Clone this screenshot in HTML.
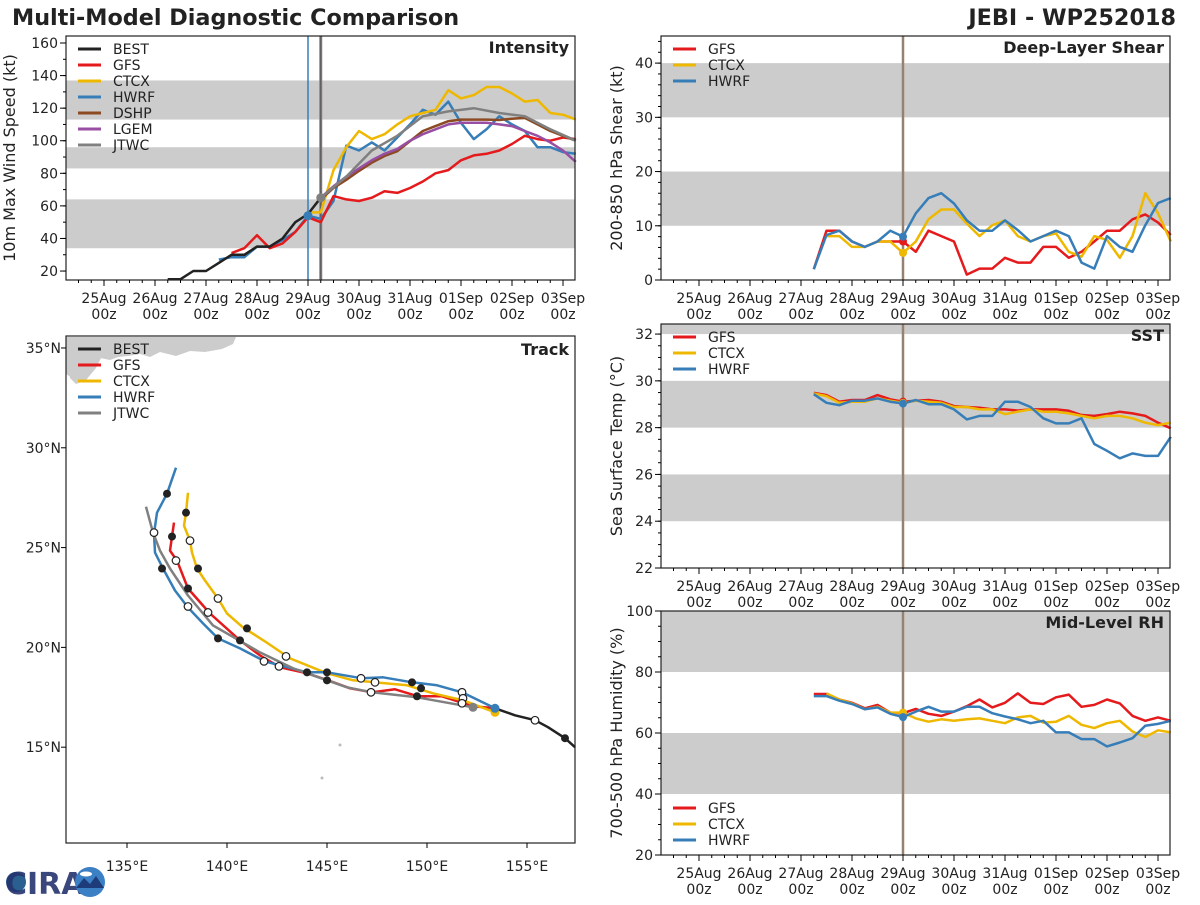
<!DOCTYPE html>
<html><head><meta charset="utf-8"><title>Multi-Model Diagnostic Comparison</title>
<style>
html,body{margin:0;padding:0;background:#fff;}
svg text{font-family:"DejaVu Sans","Liberation Sans",sans-serif;}
</style></head>
<body>
<svg id="fig" xmlns="http://www.w3.org/2000/svg" width="1200" height="900" viewBox="0 0 1200 900">
<rect width="1200" height="900" fill="#fff"/>
<text x="12" y="25" font-size="22.3" font-weight="bold" fill="#222">Multi-Model Diagnostic Comparison</text>
<text x="1176" y="25" font-size="22.3" font-weight="bold" fill="#222" text-anchor="end">JEBI - WP252018</text>
<g id="root"></g>
<g>
<circle cx="16" cy="882" r="10" fill="#2a5f8f"/>
<text x="5" y="894" font-size="30" font-weight="bold" fill="#23336e" font-family="Liberation Sans" fill-opacity="0.9">CIRA</text>
<circle cx="90" cy="882" r="15" fill="#3b7fc4"/>
<path d="M76 888 L84 878 L90 884 L96 876 L104 888 Z" fill="#1f3c7a"/>
<ellipse cx="86" cy="874" rx="6" ry="2.5" fill="#fff"/>
</g>
</svg>
<script>
// ---------- DATA ----------
const dayLabels = ["25Aug","26Aug","27Aug","28Aug","29Aug","30Aug","31Aug","01Sep","02Sep","03Sep"];
const intYTicks = [20,40,60,80,100,120,140,160];
const shearYTicks = [0,10,20,30,40];
const sstYTicks = [22,24,26,28,30,32];
const rhYTicks = [20,40,60,80,100];
const lonTicks = [135,140,145,150,155];
const latTicks = [15,20,25,30,35];

const bestStart = 30;
const bestInt = [15,15,20,20,25,30,30,35,35,40,50,55,65];
const gfsIntStart = 60;
const gfsInt = [31,34,42,34,37,44,53,50,66,64,63,65,69,68,71,75,80,82,88,91,92,94,98,103,101,100,102,101];
const ctcxIntStart = 96;
const ctcxInt = [56,56,82,96,106,101,104,110,115,117,119,131,126,128,133,133,129,124,125,117,116,113];
const hwrfIntStart = 54;
const hwrfInt = [27,28.5,28.5,35,35,39,44,54,52,63,97,94,99,94,102,110,119,116,124,111,101,107,115,110,106,96,96,93,92];
const dshpIntStart = 102;
const dshpInt = [64,71,76,81.5,86.5,90.6,93.6,99.8,106,109,112,113,113,113,112.7,113.5,114,110,106,103,100];
const lgemIntStart = 102;
const lgemInt = [65,72,78,83,88,92,95,100,104,107,110,111,111,111,110,109,106,103,99,94,87];
const jtwcIntStart = 102;
const jtwcInt = [65,78,94,103,115,118,120,117,115,107,100];

const shearStart = 54;
const gfsShear = [2,9.1,9.1,7.1,6.1,7.1,7.1,7.1,5.2,9.1,8.1,7.1,1.0,2.1,2.1,4.1,3.2,3.2,6.1,6.1,4.1,5.2,7.1,9.1,9.1,11.2,12.1,10.6,8.3];
const ctcxShearStart = 60;
const ctcxShear = [8.1,8.1,6.1,6.1,7.1,7.1,5.0,7.1,11.2,13.0,13.0,10.4,8.1,10.1,11.0,8.1,7.1,8.1,8.6,5.2,4.3,8.1,7.4,4.1,8.1,16.0,12.3,7.1];
const hwrfShear = [2.0,8.3,9.1,7.1,6.1,7.1,9.1,8.0,12.3,15.1,16.0,14.1,11.0,9.1,9.1,11.0,9.2,7.1,8.1,9.1,8.1,3.2,2.1,8.1,6.1,5.2,10.1,14.2,15.1];

const sstStart = 54;
const gfsSst = [29.49,29.39,29.11,29.18,29.18,29.39,29.21,29.11,29.15,29.18,29.11,28.92,28.88,28.85,28.78,28.78,28.73,28.78,28.78,28.78,28.72,28.54,28.50,28.58,28.68,28.61,28.50,28.21,27.97];
const ctcxSst = [29.46,29.35,29.06,29.11,29.11,29.25,29.15,29.06,29.15,29.11,29.06,28.88,28.88,28.78,28.78,28.58,28.68,28.78,28.68,28.68,28.61,28.50,28.40,28.50,28.50,28.40,28.21,28.11,28.21];
const hwrfSst = [29.43,29.06,28.96,29.15,29.15,29.25,29.11,29.03,29.18,29.00,29.00,28.78,28.35,28.50,28.50,29.11,29.11,28.88,28.40,28.18,28.18,28.40,27.30,27.01,26.69,26.90,26.79,26.79,27.61];

const rhStart = 54;
const gfsRh = [72.8,72.8,71.0,69.9,68.1,69.2,66.7,66.5,67.9,66.3,65.6,67.0,68.8,71.0,68.4,69.9,73.0,69.9,69.5,71.7,72.6,68.6,69.2,71.0,69.7,65.6,64.0,65.1,64.0];
const ctcxRhStart = 60;
const ctcxRh = [73.0,71.0,69.7,67.8,68.6,66.7,66.7,64.8,63.7,64.5,64.0,64.5,64.8,64.0,63.2,65.1,65.6,63.4,63.7,65.6,62.7,61.6,63.2,64.0,60.5,58.7,60.9,60.2];
const hwrfRh = [72.1,72.1,70.6,69.5,67.8,68.4,66.3,65.2,67.0,68.6,67.0,67.0,68.6,68.6,66.5,65.4,64.5,63.2,64.0,60.2,60.2,58.0,58.0,55.6,56.9,58.3,62.4,63.0,64.0];

const bestTrack = [[157.4,15.0],[156.9,15.45],[156.05,16.0],[155.4,16.35],[154.4,16.6],[153.4,16.95]];
const hwrfTrack = [[153.4,16.95],[151.75,17.75],[150.5,18.1],[149.25,18.25],[147.8,18.5],[146.75,18.45],[145.0,18.75],[144.0,18.75],[141.9,19.3],[140.65,19.95],[139.55,20.45],[138.8,21.2],[138.05,22.0],[137.4,22.85],[136.8,23.95],[136.4,24.75],[136.35,25.7],[136.5,26.75],[137.0,27.7],[137.45,29.0]];
const gfsTrack = [[153.4,16.95],[152.3,17.05],[150.75,17.55],[149.55,17.55],[148.4,17.9],[147.25,17.75],[146.15,17.95],[145.05,18.35],[144.0,18.7],[142.65,19.0],[141.65,19.6],[140.65,20.35],[139.15,21.7],[138.05,22.95],[137.5,24.35],[137.15,24.85],[137.25,25.55],[137.35,26.25]];
const ctcxTrack = [[153.4,16.75],[151.8,17.35],[150.3,17.7],[149.0,18.1],[147.4,18.25],[146.3,18.35],[145.0,18.7],[143.15,19.45],[141.9,20.3],[140.8,21.0],[140.0,21.7],[139.55,22.45],[138.9,23.35],[138.5,23.95],[138.25,24.75],[138.15,25.35],[137.85,26.1],[137.95,26.75],[138.05,27.75]];
const jtwcTrack = [[152.3,17.0],[149.5,17.5],[147.25,17.75],[146.0,18.0],[145.0,18.35],[143.3,18.95],[141.65,19.75],[139.3,21.1],[138.05,22.6],[137.15,23.95],[136.65,24.85],[136.3,25.75],[135.95,27.05]];
const filledMarks = [[137.0,27.7],[137.95,26.75],[137.25,25.55],[136.75,23.95],[138.55,23.95],[138.05,22.95],[141.0,20.95],[139.55,20.45],[140.65,20.35],[144.0,18.75],[145.0,18.75],[145.0,18.35],[149.25,18.25],[149.7,17.95],[149.5,17.55],[156.9,15.45]];
const openMarks = [[136.35,25.75],[138.15,25.35],[137.45,24.35],[139.55,22.45],[138.05,22.05],[139.05,21.75],[142.95,19.55],[141.85,19.3],[142.6,19.05],[146.7,18.45],[147.4,18.25],[147.2,17.75],[151.75,17.75],[151.8,17.45],[151.75,17.2],[155.4,16.35]];

const C = {BEST:"#222222",GFS:"#e41a1c",CTCX:"#efb800",HWRF:"#377eb8",DSHP:"#8c4a22",LGEM:"#984ea3",JTWC:"#808080"};
const NS = "http://www.w3.org/2000/svg";
const root = document.getElementById('root');
function mk(tag, attrs, parent){const e=document.createElementNS(NS,tag);for(const k in attrs)e.setAttribute(k,attrs[k]);(parent||root).appendChild(e);return e;}

const T0=-0.745*24, T1=9.235*24;
function makeX(x0,w){return t=>x0+(t-T0)/(T1-T0)*w;}
function makeY(y0,h,d0,d1){return v=>y0+h-(v-d0)/(d1-d0)*h;}

function timeAxis(g,X,yb,labelY){
  for(let t=-12;t<=T1;t+=6){ if(t<T0) continue;
    const major=(t%24===0);
    mk('line',{x1:X(t),x2:X(t),y1:yb,y2:yb+(major?6:3),stroke:'#000','stroke-width':1},g);
  }
  dayLabels.forEach((d,i)=>{
    const t1=mk('text',{x:X(i*24),y:labelY,'font-size':14,'text-anchor':'middle',fill:'#222'},g);t1.textContent=d;
    const t2=mk('text',{x:X(i*24),y:labelY+16,'font-size':14,'text-anchor':'middle',fill:'#222'},g);t2.textContent='00z';
  });
}
function yAxis(g,Y,x0,ticks,minorStep,dmin,dmax,fmt){
  for(let v=Math.ceil(dmin/minorStep)*minorStep;v<=dmax;v+=minorStep){
    mk('line',{x1:x0-3,x2:x0,y1:Y(v),y2:Y(v),stroke:'#000'},g);
  }
  ticks.forEach(v=>{
    mk('line',{x1:x0-6,x2:x0,y1:Y(v),y2:Y(v),stroke:'#000'},g);
    const t=mk('text',{x:x0-8,y:Y(v)+5,'font-size':14,'text-anchor':'end',fill:'#222'},g);t.textContent=fmt?fmt(v):v;
  });
}
function bands(g,Y,x0,w,list,d1){
  list.forEach(b=>{const top=Y(Math.min(b[1],d1));mk('rect',{x:x0,y:top,width:w,height:Y(b[0])-top,fill:'#cccccc'},g);});
}
function series(g,X,Y,start,step,vals,color,name){
  const pts=vals.map((v,i)=>X(start+i*step).toFixed(1)+','+Y(v).toFixed(1)).join(' ');
  const p=mk('polyline',{points:pts,fill:'none',stroke:color,'stroke-width':2.5,'stroke-linejoin':'round'},g);
  
  
}
function dot(g,x,y,color,r){mk('circle',{cx:x,cy:y,r:r||4.5,fill:color},g);}
function legend(g,x,y,names,colors){
  names.forEach((n,i)=>{
    const lg=mk('g',{},g);
    
    
    mk('line',{x1:x,x2:x+23,y1:y+i*16,y2:y+i*16,stroke:colors[i],'stroke-width':3},lg);
    const t=mk('text',{x:x+35,y:y+i*16+5,'font-size':14,fill:'#222'},lg);t.textContent=n;
  });
}
function frame(g,x,y,w,h){mk('rect',{x:x,y:y,width:w,height:h,fill:'none',stroke:'#222','stroke-width':1.2},g);}
function title(g,x,y,s){const t=mk('text',{x:x,y:y,'font-size':16,'font-weight':'bold','text-anchor':'end',fill:'#222'},g);t.textContent=s;}
function ylabel(g,x,y,s){const t=mk('text',{x:x,y:y,'font-size':16,'text-anchor':'middle',fill:'#222',transform:`rotate(-90 ${x} ${y})`},g);t.textContent=s;}

(function(){
  const x0=66,y0=36,w=509,h=244,d0=14.5,d1=164.3;
  const g=mk('g',{});
  const X=makeX(x0,w),Y=makeY(y0,h,d0,d1);
  bands(g,Y,x0,w,[[34,64],[83,96],[113,137]],d1);
  mk('line',{x1:X(96),x2:X(96),y1:y0,y2:y0+h,stroke:C.HWRF,'stroke-width':1.5},g);
  mk('line',{x1:X(102),x2:X(102),y1:y0,y2:y0+h,stroke:'#8a8080','stroke-width':3},g);
  mk('line',{x1:X(102),x2:X(102),y1:y0,y2:y0+h,stroke:'#555','stroke-width':1},g);
  series(g,X,Y,hwrfIntStart,6,hwrfInt,C.HWRF,'hwrf-intensity-line');
  series(g,X,Y,gfsIntStart,6,gfsInt,C.GFS,'gfs-intensity-line');
  series(g,X,Y,ctcxIntStart,6,ctcxInt,C.CTCX,'ctcx-intensity-line');
  series(g,X,Y,dshpIntStart,6,dshpInt,C.DSHP,'dshp-intensity-line');
  series(g,X,Y,lgemIntStart,6,lgemInt,C.LGEM,'lgem-intensity-line');
  series(g,X,Y,jtwcIntStart,12,jtwcInt,C.JTWC,'jtwc-intensity-line');
  series(g,X,Y,bestStart,6,bestInt,C.BEST,'best-intensity-line');
  dot(g,X(96),Y(hwrfInt[(96-hwrfIntStart)/6]),C.HWRF);
  dot(g,X(102),Y(jtwcInt[0]),C.JTWC);
  frame(g,x0,y0,w,h);
  yAxis(g,Y,x0,intYTicks,10,d0,d1);
  timeAxis(g,X,y0+h,303);
  title(g,x0+w-6,y0+17,'Intensity');
  ylabel(g,15,y0+h/2,'10m Max Wind Speed (kt)');
  legend(g,78,49,['BEST','GFS','CTCX','HWRF','DSHP','LGEM','JTWC'],[C.BEST,C.GFS,C.CTCX,C.HWRF,C.DSHP,C.LGEM,C.JTWC]);
})();

function rightPanel(name,y0,h,d0,d1,ticks,minor,bandList,ttl,yl,start,gfs,ctcxS,ctcx,hwrf,legY,labelY,fmt){
  const x0=661,w=509;
  const g=mk('g',{});
  const X=makeX(x0,w),Y=makeY(y0,h,d0,d1);
  bands(g,Y,x0,w,bandList,d1);
  mk('line',{x1:X(96),x2:X(96),y1:y0,y2:y0+h,stroke:'#a58468','stroke-width':2.5},g);
  mk('line',{x1:X(96),x2:X(96),y1:y0,y2:y0+h,stroke:C.HWRF,'stroke-width':0.5,'stroke-opacity':0.6},g);
  series(g,X,Y,start,6,gfs,C.GFS,'gfs-line');
  series(g,X,Y,ctcxS,6,ctcx,C.CTCX,'ctcx-line');
  series(g,X,Y,start,6,hwrf,C.HWRF,'hwrf-line');
  dot(g,X(96),Y(gfs[(96-start)/6]),C.GFS,4);
  dot(g,X(96),Y(ctcx[(96-ctcxS)/6]),C.CTCX,4);
  dot(g,X(96),Y(hwrf[(96-start)/6]),C.HWRF,4);
  frame(g,x0,y0,w,h);
  yAxis(g,Y,x0,ticks,minor,d0,d1,fmt);
  timeAxis(g,X,y0+h,labelY);
  title(g,x0+w-6,y0+17,ttl);
  ylabel(g,622,y0+h/2,yl);
  legend(g,673,legY,['GFS','CTCX','HWRF'],[C.GFS,C.CTCX,C.HWRF]);
}
rightPanel('shear-panel',36,244,0,45,shearYTicks,2,[[10,20],[30,40]],'Deep-Layer Shear','200-850 hPa Shear (kt)',shearStart,gfsShear,ctcxShearStart,ctcxShear,hwrfShear,49,303);
rightPanel('sst-panel',324,244,22,32.43,sstYTicks,0.5,[[24,26],[28,30],[32,34]],'SST','Sea Surface Temp (°C)',sstStart,gfsSst,sstStart,ctcxSst,hwrfSst,337,591);
rightPanel('rh-panel',611,244,20,100,rhYTicks,5,[[40,60],[80,100]],'Mid-Level RH','700-500 hPa Humidity (%)',rhStart,gfsRh,ctcxRhStart,ctcxRh,hwrfRh,808,878);

(function(){
  const x0=66,y0=336,w=509,h=507;
  const L0=131.95,L1=157.4,B0=10.2,B1=35.6;
  const g=mk('g',{});
  const X=v=>x0+(v-L0)/(L1-L0)*w, Y=v=>y0+h-(v-B0)/(B1-B0)*h;
  const land=mk('g',{},g);
  mk('polygon',{points:'66,337 236,337 233,344 222,349 205,352 190,351 176,356 160,352 150,357 140,354 128,356 118,357 110,360 100,358 92,362 86,370 80,376 72,378 66,374',fill:'#cccccc'},land);
  mk('polygon',{points:'68,352 92,350 102,356 96,368 86,380 76,384 70,378',fill:'#cccccc'},land);
  mk('circle',{cx:340,cy:745,r:1.5,fill:'#bbb'},land);
  mk('circle',{cx:322,cy:778,r:1.5,fill:'#bbb'},land);
  const trk=(arr,color,name)=>{const p=mk('polyline',{points:arr.map(a=>X(a[0]).toFixed(1)+','+Y(a[1]).toFixed(1)).join(' '),fill:'none',stroke:color,'stroke-width':2.5,'stroke-linejoin':'round'},g);
    
    };
  trk(gfsTrack,C.GFS,'gfs-track');
  trk(ctcxTrack,C.CTCX,'ctcx-track');
  trk(hwrfTrack,C.HWRF,'hwrf-track');
  trk(jtwcTrack,C.JTWC,'jtwc-track');
  trk(bestTrack,C.BEST,'best-track');
  filledMarks.forEach(m=>mk('circle',{cx:X(m[0]),cy:Y(m[1]),r:4,fill:'#222'},g));
  openMarks.forEach(m=>mk('circle',{cx:X(m[0]),cy:Y(m[1]),r:3.8,fill:'#fff',stroke:'#222','stroke-width':1.2},g));
  dot(g,X(ctcxTrack[0][0]),Y(ctcxTrack[0][1]),C.CTCX,4.5);
  dot(g,X(hwrfTrack[0][0]),Y(hwrfTrack[0][1]),C.HWRF,4.5);
  dot(g,X(jtwcTrack[0][0]),Y(jtwcTrack[0][1]),C.JTWC,4.5);
  frame(g,x0,y0,w,h);
  latTicks.forEach(v=>{mk('line',{x1:x0-5,x2:x0,y1:Y(v),y2:Y(v),stroke:'#000'},g);
    const t=mk('text',{x:x0-5,y:Y(v)+5,'font-size':14,'text-anchor':'end',fill:'#222'},g);t.textContent=v+'°N';});
  lonTicks.forEach(v=>{mk('line',{x1:X(v),x2:X(v),y1:y0+h,y2:y0+h+5,stroke:'#000'},g);
    const t=mk('text',{x:X(v),y:871,'font-size':14,'text-anchor':'middle',fill:'#222'},g);t.textContent=v+'°E';});
  title(g,x0+w-6,y0+19,'Track');
  legend(g,78,349,['BEST','GFS','CTCX','HWRF','JTWC'],[C.BEST,C.GFS,C.CTCX,C.HWRF,C.JTWC]);
})();
</script>
</body></html>
